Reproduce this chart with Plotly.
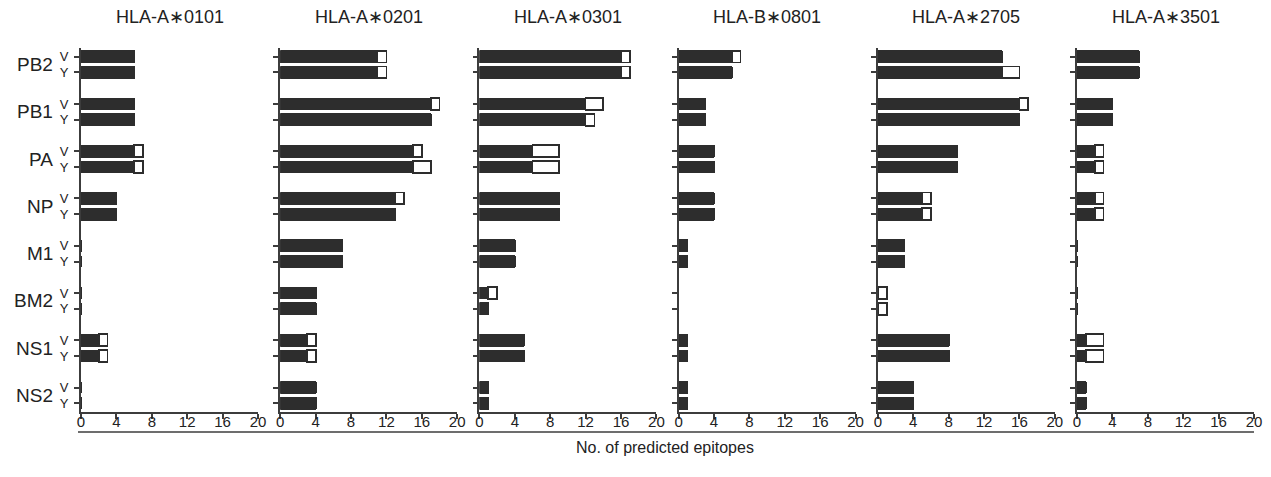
import plotly.graph_objects as go

W, H = 1271, 477
OFF = 8  # default page body margin

proteins = ["PB2", "PB1", "PA", "NP", "M1", "BM2", "NS1", "NS2"]
strains = ["V", "Y"]
alleles = ["HLA-A\u22170101", "HLA-A\u22170201", "HLA-A\u22170301",
           "HLA-B\u22170801", "HLA-A\u22172705", "HLA-A\u22173501"]

# values per row: PB2 V, PB2 Y, PB1 V, PB1 Y, ... NS2 V, NS2 Y
A0101_dark = [6, 6, 6, 6, 6, 6, 4, 4, 0, 0, 0, 0, 2, 2, 0, 0]
A0101_open = [0, 0, 0, 0, 1, 1, 0, 0, 0, 0, 0, 0, 1, 1, 0, 0]
A0201_dark = [11, 11, 17, 17, 15, 15, 13, 13, 7, 7, 4, 4, 3, 3, 4, 4]
A0201_open = [1, 1, 1, 0, 1, 2, 1, 0, 0, 0, 0, 0, 1, 1, 0, 0]
A0301_dark = [16, 16, 12, 12, 6, 6, 9, 9, 4, 4, 1, 1, 5, 5, 1, 1]
A0301_open = [1, 1, 2, 1, 3, 3, 0, 0, 0, 0, 1, 0, 0, 0, 0, 0]
B0801_dark = [6, 6, 3, 3, 4, 4, 4, 4, 1, 1, 0, 0, 1, 1, 1, 1]
B0801_open = [1, 0, 0, 0, 0, 0, 0, 0, 0, 0, 0, 0, 0, 0, 0, 0]
A2705_dark = [14, 14, 16, 16, 9, 9, 5, 5, 3, 3, 0, 0, 8, 8, 4, 4]
A2705_open = [0, 2, 1, 0, 0, 0, 1, 1, 0, 0, 1, 1, 0, 0, 0, 0]
A3501_dark = [7, 7, 4, 4, 2, 2, 2, 2, 0, 0, 0, 0, 1, 1, 1, 1]
A3501_open = [0, 0, 0, 0, 1, 1, 1, 1, 0, 0, 0, 0, 2, 2, 0, 0]

dark_sets = [A0101_dark, A0201_dark, A0301_dark, B0801_dark, A2705_dark, A3501_dark]
open_sets = [A0101_open, A0201_open, A0301_open, B0801_open, A2705_open, A3501_open]

x_ticks = [0, 4, 8, 12, 16, 20]
x_title = "No. of predicted epitopes"

# row positions: V at 3*i, Y at 3*i+1
ypos = []
ylab = []
for i, p in enumerate(proteins):
    for j, s in enumerate(strains):
        ypos.append(3 * i + j)
        ylab.append(s)

DARK = "#2d2d2d"
AX = "#3c3c3c"
FONT = "Liberation Sans, Arial, sans-serif"


def fx(px):
    return (px - OFF) / W


def fy(py):
    return 1 - (py - OFF) / H


fig = go.Figure()
layout = dict(
    width=W, height=H,
    margin=dict(l=0, r=0, t=0, b=0, autoexpand=False),
    paper_bgcolor="white", plot_bgcolor="white",
    barmode="stack",
    showlegend=False,
    font=dict(family=FONT, color="#222", size=14),
)

annotations = []
x0_px, pw, step = 81.0, 177.0, 199.2
y_top, y_bot = 48.0, 412.0
ydom = [fy(y_bot), fy(y_top)]

for k, allele in enumerate(alleles):
    n = k + 1
    xa = "x" if n == 1 else f"x{n}"
    ya = "y" if n == 1 else f"y{n}"
    left = x0_px + k * step
    xdom = [fx(left), fx(left + pw)]
    fig.add_trace(go.Bar(
        x=dark_sets[k], y=ypos, orientation="h", width=0.75,
        marker=dict(color=DARK, line=dict(color=DARK, width=1)),
        xaxis=xa, yaxis=ya, hoverinfo="x+y",
    ))
    fig.add_trace(go.Bar(
        x=open_sets[k], y=ypos, orientation="h", width=0.75,
        marker=dict(color="white", line=dict(color=DARK, width=1.8)),
        xaxis=xa, yaxis=ya, hoverinfo="x+y",
    ))
    layout["xaxis" if n == 1 else f"xaxis{n}"] = dict(
        domain=xdom, range=[0, 20], anchor=ya,
        tickvals=x_ticks, ticktext=[str(t) for t in x_ticks],
        ticks="outside", ticklen=5, tickwidth=1.5, tickcolor=AX,
        showline=True, linecolor=AX, linewidth=1.8,
        showgrid=False, zeroline=False, ticklabelstandoff=-10,
        tickfont=dict(size=15, color="#222", family=FONT),
        fixedrange=True,
    )
    layout["yaxis" if n == 1 else f"yaxis{n}"] = dict(
        domain=ydom, range=[22.55, -0.55], anchor=xa,
        tickvals=ypos, ticktext=ylab, showticklabels=(n == 1),
        ticks="outside", ticklen=5, tickwidth=1.5, tickcolor=AX,
        showline=True, linecolor=AX, linewidth=1.8,
        showgrid=False, zeroline=False, ticklabelstandoff=3,
        tickfont=dict(size=13, color="#222", family=FONT),
        fixedrange=True,
    )
    annotations.append(dict(
        text=allele, xref="paper", yref="paper",
        x=fx(left + pw / 2), y=fy(17), xanchor="center", yanchor="middle",
        showarrow=False, font=dict(size=18, color="#222", family=FONT),
    ))

for i, p in enumerate(proteins):
    annotations.append(dict(
        text=p, xref="paper", yref="y",
        x=fx(55), y=3 * i + 0.5, xanchor="right", yanchor="middle",
        showarrow=False, font=dict(size=19, color="#222", family=FONT),
    ))

annotations.append(dict(
    text=x_title, xref="paper", yref="paper",
    x=fx(665), y=fy(447), xanchor="center", yanchor="middle",
    showarrow=False, font=dict(size=16, color="#222", family=FONT),
))

layout["annotations"] = annotations
layout["shapes"] = [dict(
    type="line", xref="paper", yref="paper",
    x0=fx(78), x1=fx(1254), y0=fy(432), y1=fy(432),
    line=dict(color=AX, width=1.5),
)]

fig.update_layout(**layout)
fig.write_html("out.html")
